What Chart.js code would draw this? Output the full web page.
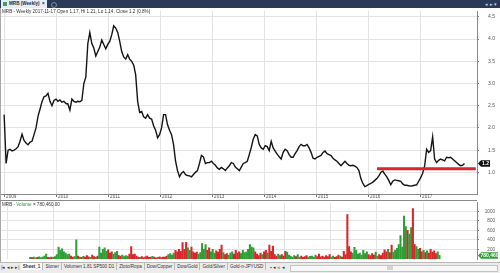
<!DOCTYPE html>
<html>
<head>
<meta charset="utf-8">
<script src="https://cdn.jsdelivr.net/npm/chart.js@4.4.1/dist/chart.umd.min.js"></script>
<style>
  body { margin: 0; width: 500px; height: 273px; overflow: hidden; background: #fff; font-family: "Liberation Sans", Arial, sans-serif; position: relative; }
  .abs { position: absolute; }
  #top { left: 0; top: 0; width: 500px; height: 8px; background: #2b3a57; }
  #tab { left: 1px; top: 0; width: 46px; height: 8px; background: #e4ecf6; font-size: 4.6px; font-weight: bold; color: #1b2a44; line-height: 8px; white-space: nowrap; }
  #tab i { display: inline-block; width: 4px; height: 4px; margin: 0 2px 0 2px; background: #4d9a55; vertical-align: -0.5px; }
  #tabnav { right: 3px; top: 0; color: #c9d3e3; font-size: 5px; line-height: 8px; }
  #plus { left: 51px; top: 1.5px; width: 4px; height: 4px; border: 0.6px solid #7c8aa6; border-radius: 50%; }
  #info { left: 2px; top: 9px; font-size: 4.6px; color: #333; white-space: nowrap; }
  #volinfo { left: 2px; top: 202px; font-size: 4.6px; color: #333; white-space: nowrap; }
  #volinfo span { color: #2f9a34; }
  #leftedge { left: 0; top: 8px; width: 1px; height: 255px; background: #a8a8a8; }
  #volline { left: 0; top: 200px; width: 477px; height: 1px; background: #8a8a8a; }
  #sheets { left: 0; top: 262px; width: 500px; height: 11px; background: #ececec; border-top: 1px solid #b9b9b9; box-sizing: border-box; font-size: 4.6px; color: #333; line-height: 10px; white-space: nowrap; }
  #sheets b, #sheets s { text-decoration: none; display: inline-block; padding: 0 2px; border-right: 1px solid #bbb; height: 7px; line-height: 7px; vertical-align: 1px; }
  #sheets b { background: #fff; }
  #scroll { left: 290px; top: 265px; width: 206px; height: 5px; background: #f7f7f7; border: 0.6px solid #c4c4c4; }
  #thumb { left: 387px; top: 266px; width: 6px; height: 4px; background: #d4d4d4; }
  canvas { position: absolute; left: 0; }
</style>
</head>
<body>
<div id="top" class="abs"></div>
<div id="tab" class="abs"><i></i>MRB (Weekly) &nbsp;×</div>
<div id="plus" class="abs"></div>
<div id="tabnav" class="abs">◂ ▸ ▾</div>
<canvas id="price" width="500" height="192" style="top:8px"></canvas>
<canvas id="vol" width="500" height="62" style="top:200px"></canvas>
<div id="leftedge" class="abs"></div>
<div id="volline" class="abs"></div>
<div id="info" class="abs">MRB - Weekly 2017-11-17 Open 1.17, Hi 1.21, Lo 1.14, Close 1.2 (0.8%)</div>
<div id="volinfo" class="abs">MRB <span>- Volume</span> = 780,460.00</div>
<div id="sheets" class="abs">&nbsp;|◂ ◂ ▸ ▸| <b>Sheet_1</b><s>Stoner</s><s>Volumen 1.81 SP500 D1</s><s>Zloto/Ropa</s><s>Dow/Copper</s><s>Dow/Gold</s><s>Gold/Silver</s><s>Gold-n-JPYUSD</s> &nbsp; ▪ ◂ ◃ ◂</div>
<div id="scroll" class="abs"></div>
<div id="thumb" class="abs"></div>
<script>
// biweekly samples, first one in the first week of 2009
const startYear = 2009.0;
const stepYears = 14 / 365.25;

const priceClose = [
  2.3, 1.2, 1.5, 1.52, 1.48, 1.5, 1.53, 1.58, 1.7, 1.86,
  1.72, 1.66, 1.62, 1.68, 1.7, 1.85, 2.0, 2.26, 2.42, 2.59,
  2.7, 2.72, 2.78, 2.6, 2.5, 2.62, 2.65, 2.6, 2.63, 2.58,
  2.6, 2.55, 2.54, 2.4, 2.65, 2.6, 2.58, 2.6, 2.59, 2.62,
  3.0, 3.15, 3.9, 4.15, 3.9, 3.8, 3.62, 3.72, 3.82, 3.98,
  3.88, 3.78, 3.88, 3.95, 4.1, 4.3, 4.25, 4.15, 3.95, 3.72,
  3.6, 3.55, 3.65, 3.55, 3.5, 3.42, 3.2, 2.6, 2.35, 2.37,
  2.25, 2.22, 2.3, 2.22, 2.2, 2.05, 1.95, 1.78, 1.85, 2.0,
  2.3, 2.3, 2.07, 1.95, 1.85, 1.63, 1.26, 1.04, 0.9, 0.98,
  1.02, 0.95, 0.93, 0.92, 0.9, 0.95, 1.0, 1.04, 1.2, 1.38,
  1.35, 1.2, 1.22, 1.22, 1.25, 1.2, 1.16, 1.1, 1.07, 1.11,
  1.08, 1.04, 1.1, 1.15, 1.22, 1.2, 1.12, 1.08, 1.04, 1.12,
  1.2, 1.22, 1.25, 1.4, 1.56, 1.75, 1.85, 1.82, 1.63, 1.55,
  1.52, 1.6, 1.58, 1.49, 1.7, 1.55, 1.48, 1.41, 1.35, 1.3,
  1.45, 1.52, 1.49, 1.4, 1.34, 1.34, 1.42, 1.49, 1.58, 1.63,
  1.6, 1.6, 1.63, 1.55, 1.45, 1.32, 1.3, 1.34, 1.36, 1.38,
  1.45, 1.48, 1.42, 1.4, 1.38, 1.32, 1.28, 1.25, 1.2, 1.15,
  1.2, 1.25, 1.2, 1.16, 1.15, 1.16, 1.14, 1.11, 1.04, 0.86,
  0.75, 0.68, 0.7, 0.73, 0.75, 0.78, 0.82, 0.86, 0.92, 1.0,
  1.03, 0.96, 0.9, 0.82, 0.72, 0.8, 0.83, 0.82, 0.81, 0.8,
  0.74, 0.71, 0.71, 0.7, 0.69, 0.7, 0.71, 0.72, 0.8, 0.88,
  0.98, 1.15, 1.52, 1.45, 1.49, 1.8, 1.3, 1.22, 1.27, 1.3,
  1.28, 1.26, 1.34, 1.33, 1.34, 1.3, 1.26, 1.22, 1.18, 1.15,
  1.16, 1.2
];

const volume = [
  30, 25, 40, 20, 30, 45, 25, 35, 60, 100,
  30, 25, 40, 30, 50, 90, 250, 180, 210, 150,
  120, 90, 100, 60, 40, 50, 400, 60, 40, 30,
  55, 35, 70, 45, 30, 80, 50, 40, 60, 250,
  120, 200, 230, 160, 190, 120, 150, 100, 130, 160,
  70, 60, 80, 50, 70, 60, 100, 260, 90, 100,
  60, 40, 30, 50, 25, 45, 60, 30, 40, 55,
  35, 20, 30, 45, 25, 40, 35, 60, 90, 110,
  80, 120, 180, 150, 200, 160, 340, 200, 350, 230,
  180, 250, 150, 120, 140, 100, 130, 320, 200, 300,
  180, 230, 150, 200, 120, 170, 140, 200, 290, 130,
  90, 110, 80, 120, 150, 100, 180, 120, 150, 110,
  180, 130, 140, 200, 300, 250, 230, 150, 100, 70,
  120, 90, 150, 180, 120, 290, 160, 270, 90, 60,
  100, 70, 90, 60, 160, 140, 80, 60, 40, 70,
  50, 90, 40, 60, 30, 50, 70, 40, 55, 60,
  40, 80, 50, 100, 45, 60, 35, 70, 50, 90,
  40, 60, 30, 50, 80, 60, 40, 160, 90, 930,
  260, 150, 120, 240, 180, 100, 120, 80, 180, 110,
  150, 90, 70, 110, 80, 140, 60, 90, 70, 120,
  190, 150, 200, 130, 290, 140, 180, 220, 300, 490,
  250, 900, 680, 600, 520, 660, 1060, 300, 260, 200,
  220, 150, 180, 130, 170, 120, 200, 140, 170, 110,
  150, 75
];

const yearTicks = [2009, 2010, 2011, 2012, 2013, 2014, 2015, 2016, 2017];
const priceTicks = [1.0, 1.5, 2.0, 2.5, 3.0, 3.5, 4.0, 4.5];
const volumeTicks = [200, 400, 600, 800, 1000];

// red support line drawn on the chart
const supportLevel = 1.08;
const supportFrom = 2016.17;
const supportTo = 2018.07;

const lastPriceText = '1.2';
const lastVolumeText = '780,460';

const xMin = 2008.94, xMax = 2018.094;
const upColor = '#2f9e35', downColor = '#d8262a';
const gridColor = '#e3e3e3';

const weekX = priceClose.map((_, i) => startYear + i * stepYears);
const volColors = volume.map((_, i) => (i === 0 || priceClose[i] >= priceClose[i - 1]) ? upColor : downColor);

const lastValueTag = {
  id: 'lastValueTag',
  afterDraw(chart, args, opts) {
    const ctx = chart.ctx;
    const y = Math.round(chart.scales.y.getPixelForValue(opts.value)) + 0.5;
    const x0 = chart.chartArea.right + 1;
    const h = 3.2;
    ctx.save();
    ctx.fillStyle = opts.color;
    ctx.beginPath();
    ctx.moveTo(x0, y);
    ctx.lineTo(x0 + 3, y - h);
    ctx.lineTo(x0 + opts.width, y - h);
    ctx.lineTo(x0 + opts.width, y + h);
    ctx.lineTo(x0 + 3, y + h);
    ctx.closePath();
    ctx.fill();
    ctx.fillStyle = '#fff';
    ctx.font = 'bold 5px "Liberation Sans", Arial';
    ctx.textAlign = 'center';
    ctx.textBaseline = 'middle';
    ctx.fillText(opts.text, x0 + 3 + (opts.width - 3) / 2, y + 0.3);
    ctx.restore();
  }
};

const tickFont = { family: '"Liberation Sans", Arial', size: 4.6 };

new Chart(document.getElementById('price'), {
  type: 'line',
  plugins: [lastValueTag],
  data: {
    datasets: [{
      data: [{ x: supportFrom, y: supportLevel }, { x: supportTo, y: supportLevel }],
      borderColor: '#d9262a',
      borderWidth: 3,
      pointRadius: 0,
      order: 0
    }, {
      data: weekX.map((x, i) => ({ x: x, y: priceClose[i] })),
      borderColor: '#151515',
      borderWidth: 1.4,
      pointRadius: 0,
      tension: 0,
      order: 1
    }]
  },
  options: {
    responsive: false,
    devicePixelRatio: 1,
    animation: false,
    events: [],
    layout: { padding: { left: 1, right: 5, top: 0, bottom: 0 } },
    plugins: {
      legend: { display: false },
      tooltip: { enabled: false },
      lastValueTag: { value: priceClose[priceClose.length - 1], text: lastPriceText, color: '#111', width: 12 }
    },
    scales: {
      x: {
        type: 'linear',
        min: xMin,
        max: xMax,
        afterBuildTicks: s => { s.ticks = yearTicks.map(v => ({ value: v })); },
        afterFit: s => { s.height = 6; },
        grid: { color: gridColor, tickLength: 3, tickColor: '#777' },
        border: { color: '#8a8a8a' },
        ticks: {
          align: 'start', labelOffset: 2, padding: -3, maxRotation: 0, autoSkip: false,
          font: tickFont, color: '#555', callback: v => String(v)
        }
      },
      y: {
        position: 'right',
        min: 0.513,
        max: 4.633,
        afterBuildTicks: s => { s.ticks = priceTicks.map(v => ({ value: v })); },
        afterFit: s => { s.width = 18; },
        grid: { color: gridColor, tickLength: 2, tickColor: '#777' },
        border: { color: '#8a8a8a' },
        ticks: { crossAlign: 'far', padding: 0, font: { family: tickFont.family, size: 5 }, color: '#555', callback: v => v.toFixed(1) }
      }
    }
  }
});

new Chart(document.getElementById('vol'), {
  type: 'bar',
  plugins: [lastValueTag],
  data: {
    datasets: [{
      data: weekX.map((x, i) => ({ x: x, y: volume[i] })),
      backgroundColor: volColors,
      barThickness: 1.4
    }]
  },
  options: {
    responsive: false,
    devicePixelRatio: 1,
    animation: false,
    events: [],
    layout: { padding: { left: 1, right: 5, top: 0, bottom: 0 } },
    plugins: {
      legend: { display: false },
      tooltip: { enabled: false },
      lastValueTag: { value: volume[volume.length - 1], text: lastVolumeText, color: '#2f9e35', width: 20 }
    },
    scales: {
      x: {
        type: 'linear',
        min: xMin,
        max: xMax,
        afterBuildTicks: s => { s.ticks = yearTicks.map(v => ({ value: v })); },
        afterFit: s => { s.height = 0; },
        grid: { color: gridColor, drawTicks: false },
        border: { display: false },
        ticks: { display: false }
      },
      y: {
        position: 'right',
        min: -8,
        max: 1180,
        afterBuildTicks: s => { s.ticks = volumeTicks.map(v => ({ value: v })); },
        afterFit: s => { s.width = 18; },
        grid: { color: gridColor, tickLength: 2, tickColor: '#777' },
        border: { color: '#8a8a8a' },
        ticks: { crossAlign: 'far', padding: 0, font: { family: tickFont.family, size: 4.6 }, color: '#555', callback: v => String(v) }
      }
    }
  }
});
</script>
</body>
</html>
